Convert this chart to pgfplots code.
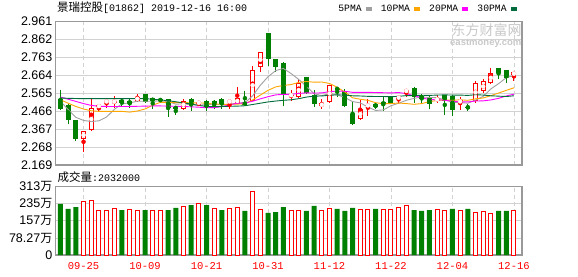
\documentclass[border=0pt]{standalone}
\usepackage{pgfplots}
\pgfplotsset{compat=1.18}
\usepackage{pgfplotstable}
\usepackage{fontspec}
\setmainfont{Liberation Sans}
\newfontfamily\cjk{Noto Sans CJK SC}
\newfontfamily\mono{Liberation Mono}
\definecolor{kred}{HTML}{FF0000}
\definecolor{kgreen}{HTML}{008000}
\definecolor{maA}{HTML}{A0A0A0}
\definecolor{maB}{HTML}{FFA500}
\definecolor{maC}{HTML}{FF00FF}
\definecolor{maD}{HTML}{006B3C}
\definecolor{framec}{HTML}{999999}
\definecolor{gridc}{HTML}{D2D2D2}
\definecolor{wmark}{HTML}{C8C8C8}

% rising candles (red, hollow): index, open, high, low, close
\pgfplotstableread{
i o h l c
3 2.313 2.355 2.239 2.355
4 2.361 2.535 2.358 2.484
5 2.489 2.500 2.465 2.499
6 2.518 2.535 2.484 2.521
7 2.517 2.551 2.484 2.520
10 2.522 2.562 2.518 2.547
16 2.480 2.533 2.474 2.524
18 2.511 2.522 2.492 2.514
22 2.518 2.522 2.478 2.521
23 2.507 2.599 2.505 2.538
25 2.524 2.716 2.520 2.694
26 2.709 2.791 2.685 2.791
30 2.553 2.581 2.520 2.556
31 2.542 2.643 2.538 2.623
34 2.492 2.533 2.478 2.511
35 2.517 2.613 2.510 2.611
39 2.423 2.529 2.420 2.478
40 2.496 2.533 2.437 2.499
44 2.535 2.557 2.505 2.547
45 2.576 2.588 2.547 2.580
49 2.525 2.555 2.511 2.538
52 2.511 2.547 2.474 2.529
54 2.520 2.635 2.510 2.621
55 2.575 2.643 2.566 2.630
56 2.621 2.704 2.615 2.679
59 2.663 2.683 2.634 2.683
}\upK

% falling candles (green, filled)
\pgfplotstableread{
i o h l c
0 2.535 2.584 2.474 2.480
1 2.502 2.505 2.396 2.415
2 2.419 2.419 2.300 2.313
8 2.529 2.531 2.496 2.513
9 2.524 2.535 2.484 2.506
11 2.562 2.562 2.510 2.518
12 2.537 2.540 2.478 2.522
13 2.533 2.537 2.518 2.522
14 2.533 2.535 2.432 2.484
15 2.489 2.492 2.443 2.480
17 2.535 2.537 2.469 2.502
19 2.524 2.526 2.465 2.489
20 2.524 2.526 2.478 2.502
21 2.535 2.537 2.480 2.502
24 2.514 2.575 2.500 2.502
27 2.898 2.898 2.716 2.756
28 2.753 2.755 2.685 2.709
29 2.733 2.735 2.492 2.561
32 2.654 2.656 2.560 2.566
33 2.557 2.581 2.489 2.506
36 2.595 2.602 2.544 2.584
37 2.579 2.590 2.489 2.492
38 2.452 2.514 2.390 2.395
41 2.507 2.510 2.480 2.489
42 2.514 2.544 2.465 2.505
43 2.544 2.547 2.503 2.513
46 2.594 2.600 2.511 2.544
47 2.551 2.562 2.511 2.536
48 2.547 2.557 2.478 2.505
50 2.553 2.555 2.447 2.524
51 2.551 2.555 2.441 2.474
53 2.489 2.508 2.465 2.486
57 2.704 2.706 2.643 2.676
58 2.694 2.696 2.621 2.649
}\downK

% moving averages
\pgfplotstableread{
i m5 m10 m20 m30
0 2.520 2.529 2.544 2.539
1 2.475 2.510 2.532 2.537
2 2.432 2.492 2.520 2.536
3 2.415 2.478 2.508 2.535
4 2.409 2.468 2.498 2.535
5 2.413 2.465 2.493 2.535
6 2.434 2.465 2.492 2.535
7 2.476 2.465 2.492 2.535
8 2.507 2.465 2.492 2.535
9 2.512 2.461 2.492 2.535
10 2.521 2.467 2.493 2.535
11 2.521 2.478 2.494 2.535
12 2.521 2.499 2.495 2.532
13 2.523 2.515 2.495 2.528
14 2.519 2.515 2.494 2.524
15 2.505 2.513 2.493 2.518
16 2.506 2.514 2.492 2.512
17 2.502 2.512 2.490 2.505
18 2.500 2.512 2.488 2.498
19 2.501 2.510 2.485 2.492
20 2.506 2.505 2.486 2.491
21 2.501 2.504 2.491 2.492
22 2.505 2.504 2.501 2.493
23 2.510 2.505 2.510 2.494
24 2.513 2.507 2.511 2.496
25 2.551 2.528 2.521 2.503
26 2.609 2.555 2.534 2.510
27 2.656 2.581 2.546 2.517
28 2.690 2.600 2.556 2.522
29 2.702 2.608 2.559 2.526
30 2.674 2.613 2.559 2.529
31 2.641 2.625 2.564 2.535
32 2.603 2.630 2.567 2.544
33 2.562 2.626 2.566 2.549
34 2.552 2.627 2.567 2.550
35 2.563 2.619 2.574 2.554
36 2.556 2.598 2.577 2.556
37 2.541 2.572 2.576 2.555
38 2.519 2.540 2.570 2.551
39 2.512 2.532 2.570 2.550
40 2.489 2.526 2.570 2.548
41 2.470 2.513 2.569 2.547
42 2.473 2.507 2.568 2.547
43 2.496 2.508 2.567 2.546
44 2.510 2.511 2.569 2.548
45 2.526 2.508 2.563 2.552
46 2.537 2.504 2.551 2.552
47 2.544 2.508 2.540 2.554
48 2.542 2.519 2.530 2.553
49 2.540 2.525 2.529 2.555
50 2.529 2.528 2.527 2.556
51 2.515 2.526 2.520 2.555
52 2.514 2.529 2.518 2.555
53 2.510 2.526 2.517 2.553
54 2.527 2.534 2.522 2.557
55 2.548 2.539 2.523 2.555
56 2.589 2.552 2.528 2.551
57 2.618 2.566 2.537 2.549
58 2.651 2.581 2.550 2.547
59 2.663 2.595 2.560 2.551
}\maT

% volume (10k shares)
\pgfplotstableread{
i v
3 246
4 251
5 205
6 205
7 214
9 210
10 205
12 205
13 205
16 223
18 237
20 214
22 214
23 219
25 292
26 210
30 206
31 205
34 205
35 211
39 210
40 210
42 210
43 210
44 219
45 225
49 210
50 205
52 205
54 196
55 200
56 191
59 203.2
}\volUp
\pgfplotstableread{
i v
0 234
1 211
2 220
8 206
11 206
14 206
15 216
17 229
19 229
21 206
24 202
27 193
28 197
29 220
32 202
33 225
36 211
37 202
38 216
41 211
46 206
47 202
48 206
51 211
53 211
57 202
58 202
}\volDown

\pgfplotsset{
  kbase/.style={
    scale only axis, width=466.5pt,
    xmin=-0.65, xmax=60.05,
    axis line style={framec, line width=1.2pt},
    tick style={draw=none},
    xtick={3,11,19,27,35,43,51,59},
    xmajorgrids, ymajorgrids,
    major x grid style={gridc, line width=0.8pt, dash pattern=on 4pt off 3pt},
    major y grid style={gridc, line width=0.8pt},
    yticklabel style={font=\fontsize{12.5}{12.5}\selectfont, inner sep=0pt, xshift=-3pt},
  },
  candle/.style n args={2}{color=#1, draw=#1, only marks, mark=none, forget plot,
    error bars/.cd, y dir=both, y explicit, error mark=none,
    error bar style={draw=#1, color=#1, line width=#2}},
}

\begin{document}
\begin{tikzpicture}
\useasboundingbox (0pt,0pt) rectangle (578pt,-276pt);
% watermark
\node[anchor=base west, inner sep=0pt, text=wmark] at (451.5pt,-35pt) {\fontsize{14}{14}\cjk 东方财富网};
\node[anchor=base west, inner sep=0pt, text=wmark] at (450pt,-45.5pt) {\fontsize{9.5}{9.5}\selectfont\bfseries eastmoney.com};
% title
\node[anchor=base west, inner sep=0pt] at (57pt,-11.5pt) {\fontsize{11.5}{11.5}\cjk 景瑞控股\fontsize{10}{10}\mono [01862] 2019-12-16 16:00};
% volume caption
\node[anchor=base west, inner sep=0pt] at (57.3pt,-181.7pt) {\fontsize{11.5}{11.5}\cjk 成交量\fontsize{10}{10}\mono :2032000};

\begin{axis}[kbase,
  at={(55.5pt,-21.5pt)}, anchor=north west, height=143.5pt,
  ymin=2.169, ymax=2.961,
  ytick={2.169,2.268,2.367,2.466,2.565,2.664,2.763,2.862,2.961},
  yticklabels={2.169,2.268,2.367,2.466,2.565,2.664,2.763,2.862,2.961},
  xticklabels={},
  legend columns=4,
  legend plot pos=right,
  legend style={at={(0.606,1.087)}, anchor=west, draw=none, fill=none, inner sep=0pt,
    font=\fontsize{9.7}{9.7}\mono, column sep=4pt,
    /tikz/every even column/.append style={column sep=9.3pt},
    nodes={inner sep=0pt}},
  legend image code/.code={\fill[#1] (0pt,-1.6pt) rectangle (5pt,1.6pt);},
]
% wicks
\addplot[candle={kgreen}{1pt}]
  table[x=i, y expr={(\thisrow{h}+\thisrow{l})/2}, y error expr={(\thisrow{h}-\thisrow{l})/2}] {\downK};
\addplot[candle={kred}{1pt}]
  table[x=i, y expr={(\thisrow{h}+\thisrow{l})/2}, y error expr={(\thisrow{h}-\thisrow{l})/2}] {\upK};
% bodies
\addplot[candle={kgreen}{5pt}]
  table[x=i, y expr={(\thisrow{o}+\thisrow{c})/2}, y error expr={max(abs(\thisrow{o}-\thisrow{c})/2,0.003)}] {\downK};
\addplot[candle={kred}{5pt}]
  table[x=i, y expr={(\thisrow{o}+\thisrow{c})/2}, y error expr={max(abs(\thisrow{o}-\thisrow{c})/2,0.003)}] {\upK};
\addplot[candle={white}{3pt}]
  table[x=i, y expr={(\thisrow{o}+\thisrow{c})/2}, y error expr={max(abs(\thisrow{o}-\thisrow{c})/2-0.0055,0)}] {\upK};
% moving averages
\addplot[maA, line width=0.9pt] table[x=i, y=m5] {\maT};
\addlegendentry{5PMA}
\addplot[maB, line width=0.9pt] table[x=i, y=m10] {\maT};
\addlegendentry{10PMA}
\addplot[maC, line width=0.9pt] table[x=i, y=m20] {\maT};
\addlegendentry{20PMA}
\addplot[maD, line width=0.9pt] table[x=i, y=m30] {\maT};
\addlegendentry{30PMA}
\end{axis}

\begin{axis}[kbase,
  at={(55.5pt,-186.7pt)}, anchor=north west, height=68.3pt,
  ymin=0, ymax=313.08,
  ytick={0,78.27,156.54,234.81,313.08},
  yticklabels={0,{78.27{\fontsize{12}{12}\cjk 万}},{157{\fontsize{12}{12}\cjk 万}},{235{\fontsize{12}{12}\cjk 万}},{313{\fontsize{12}{12}\cjk 万}}},
  xticklabels={09-25,10-09,10-21,10-31,11-12,11-22,12-04,12-16},
  xticklabel style={text=kred, font=\fontsize{10.5}{10.5}\mono, inner sep=0pt, anchor=north, yshift=-7.7pt},
]
\addplot[ybar, bar width=5pt, bar shift=0pt, fill=kgreen, draw=none] table[x=i, y=v] {\volDown};
\addplot[ybar, bar width=4pt, bar shift=0pt, fill=white, draw=kred, line width=1pt] table[x=i, y=v] {\volUp};
\end{axis}
\end{tikzpicture}
\end{document}
